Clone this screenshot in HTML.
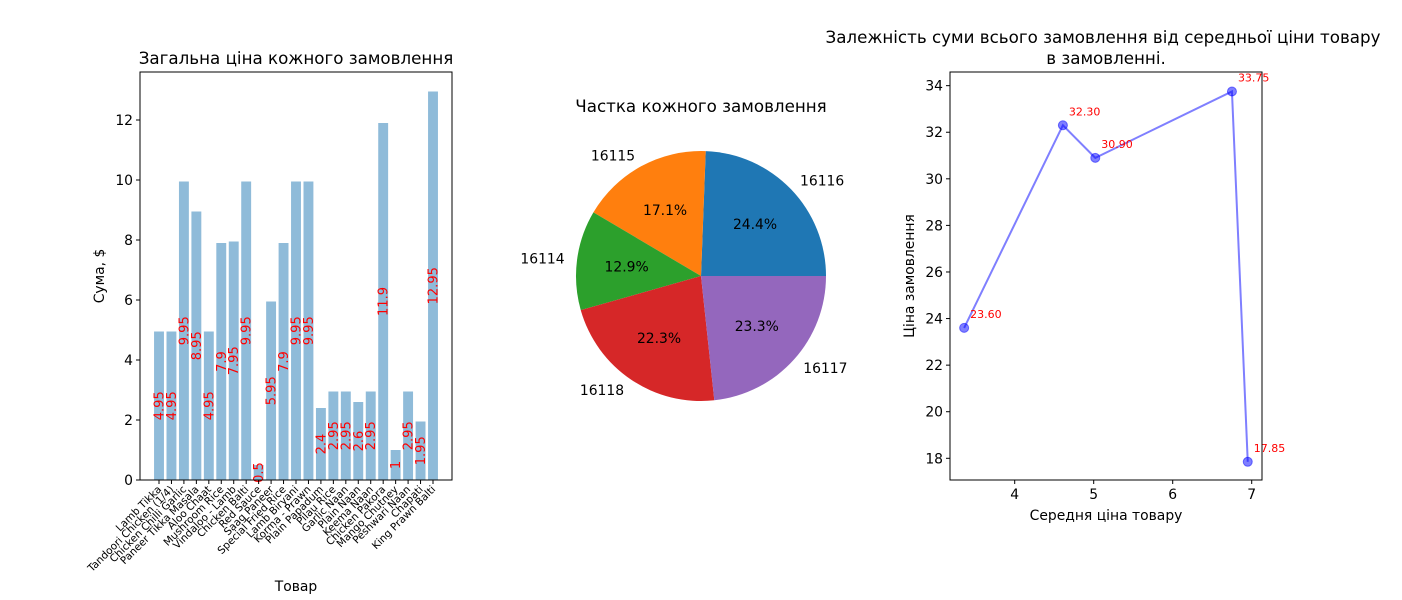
<!DOCTYPE html>
<html><head><meta charset="utf-8"><style>
body{margin:0;background:#fff}
svg{font-family:"DejaVu Sans","Liberation Sans",sans-serif;display:block}
</style></head><body>
<svg id="c" width="1402" height="600" xmlns="http://www.w3.org/2000/svg"></svg>
<script>
const barCats=["Lamb Tikka","Tandoori Chicken (1/4)","Chicken Chilli Garlic","Paneer Tikka Masala","Aloo Chaat","Mushroom Rice","Vindaloo - Lamb","Chicken Balti","Red Sauce","Saag Paneer","Special Fried Rice","Lamb Biryani","Korma - Prawn","Plain Papadum","Pilau Rice","Garlic Naan","Plain Naan","Keema Naan","Chicken Pakora","Mango Chutney","Peshwari Naan","Chapati","King Prawn Balti"];
const barVals=[4.95,4.95,9.95,8.95,4.95,7.9,7.95,9.95,0.5,5.95,7.9,9.95,9.95,2.4,2.95,2.95,2.6,2.95,11.9,1,2.95,1.95,12.95];
const barYTicks=[0,2,4,6,8,10,12];
const pieLabels=["16116","16115","16114","16118","16117"];
const pieVals=[24.4,17.1,12.9,22.3,23.3];
const pieColors=["#1f77b4","#ff7f0e","#2ca02c","#d62728","#9467bd"];
const scX=[3.36,4.61,5.02,6.75,6.95];
const scY=[23.60,32.30,30.90,33.75,17.85];
const scXTicks=[4,5,6,7];
const scYTicks=[18,20,22,24,26,28,30,32,34];

const S=document.getElementById('c');const NS="http://www.w3.org/2000/svg";
function el(t,a,txt){const e=document.createElementNS(NS,t);for(const k in a)e.setAttribute(k,a[k]);if(txt!==undefined)e.textContent=txt;S.appendChild(e);return e;}

// ---- bar chart
const bL=140,bR=452,bT=72,bB=480;
const bx=i=>159+i*(433-159)/(barCats.length-1);
const by=v=>bB-v*30;
const bw=9.9;
barVals.forEach((v,i)=>{
 const r=el('rect',{x:bx(i)-bw/2,y:by(v),width:bw,height:bB-by(v),fill:'#1f77b4','fill-opacity':0.5});
 
 const t=el('text',{x:0,y:0,transform:`translate(${bx(i)+4.5},${by(v/2)}) rotate(-90)`,'text-anchor':'middle','font-size':13,fill:'red'},String(v));
 
 el('line',{x1:bx(i),x2:bx(i),y1:bB,y2:bB+4,stroke:'#000'});
 const lt=el('text',{x:0,y:0,transform:`translate(${bx(i)+3},${bB+10}) rotate(-45)`,'text-anchor':'end','font-size':10.4},barCats[i]);
 
});
barYTicks.forEach(v=>{el('line',{x1:bL-4,x2:bL,y1:by(v),y2:by(v),stroke:'#000'});
 const t=el('text',{x:bL-7,y:by(v)+5,'text-anchor':'end','font-size':13.9},String(v));});
let f=el('rect',{x:bL,y:bT,width:bR-bL,height:bB-bT,fill:'none',stroke:'#000','stroke-width':1});
let t1=el('text',{x:296,y:64,'text-anchor':'middle','font-size':16.7},'Загальна ціна кожного замовлення');
let t2=el('text',{x:0,y:0,transform:'translate(104,276) rotate(-90)','text-anchor':'middle','font-size':13.9},'Сума, $');
let t3=el('text',{x:296,y:591,'text-anchor':'middle','font-size':13.9},'Товар');

// ---- pie
const cx=701,cy=276,R=125;const tot=pieVals.reduce((a,b)=>a+b,0);let a0=0;
pieVals.forEach((v,i)=>{
 const a1=a0+v/tot*2*Math.PI;
 const p=(a,r)=>[cx+r*Math.cos(a),cy-r*Math.sin(a)];
 const [x0,y0]=p(a0,R),[x1,y1]=p(a1,R);
 const w=el('path',{d:`M${cx},${cy} L${x0},${y0} A${R},${R} 0 ${a1-a0>Math.PI?1:0} 0 ${x1},${y1} Z`,fill:pieColors[i]});
 
 const m=(a0+a1)/2;const [lx,ly]=p(m,R*1.1);
 const lt=el('text',{x:lx,y:ly+5,'text-anchor':Math.cos(m)>0.05?'start':(Math.cos(m)<-0.05?'end':'middle'),'font-size':13.9},pieLabels[i]);
 
 const [px,py]=p(m,R*0.6);
 const pt=el('text',{x:px,y:py+5,'text-anchor':'middle','font-size':13.9},v.toFixed(1)+'%');
 
 a0=a1;
});
let t4=el('text',{x:701,y:112,'text-anchor':'middle','font-size':16.7},'Частка кожного замовлення');

// ---- scatter
const sL=950,sR=1262,sT=72,sB=480;
const sx=v=>1014.7+(v-4)*79;
const sy=v=>458.3-(v-18)*23.29;
const pl=el('polyline',{points:scX.map((x,i)=>sx(x)+','+sy(scY[i])).join(' '),fill:'none',stroke:'#0000ff','stroke-opacity':0.5,'stroke-width':2});


scX.forEach((x,i)=>{
 const c=el('circle',{cx:sx(x),cy:sy(scY[i]),r:4.5,fill:'#0000ff','fill-opacity':0.5,stroke:'#0000ff','stroke-opacity':0.5});
 
 const t=el('text',{x:sx(x)+6,y:sy(scY[i])-10,'font-size':11,fill:'red'},scY[i].toFixed(2));
 
});
scXTicks.forEach(v=>{el('line',{x1:sx(v),x2:sx(v),y1:sB,y2:sB+4,stroke:'#000'});
 const t=el('text',{x:sx(v),y:sB+19,'text-anchor':'middle','font-size':13.9},String(v));});
scYTicks.forEach(v=>{el('line',{x1:sL-4,x2:sL,y1:sy(v),y2:sy(v),stroke:'#000'});
 const t=el('text',{x:sL-7,y:sy(v)+5,'text-anchor':'end','font-size':13.9},String(v));});
let f2=el('rect',{x:sL,y:sT,width:sR-sL,height:sB-sT,fill:'none',stroke:'#000'});
let t5=el('text',{x:1103,y:43,'text-anchor':'middle','font-size':16.7},'Залежність суми всього замовлення від середньої ціни товару');
let t6=el('text',{x:1106,y:64,'text-anchor':'middle','font-size':16.7},'в замовленні.');
let t7=el('text',{x:1106,y:520,'text-anchor':'middle','font-size':13.9},'Середня ціна товару');
let t8=el('text',{x:0,y:0,transform:'translate(914,276) rotate(-90)','text-anchor':'middle','font-size':13.9},'Ціна замовлення');
</script>
</body></html>
